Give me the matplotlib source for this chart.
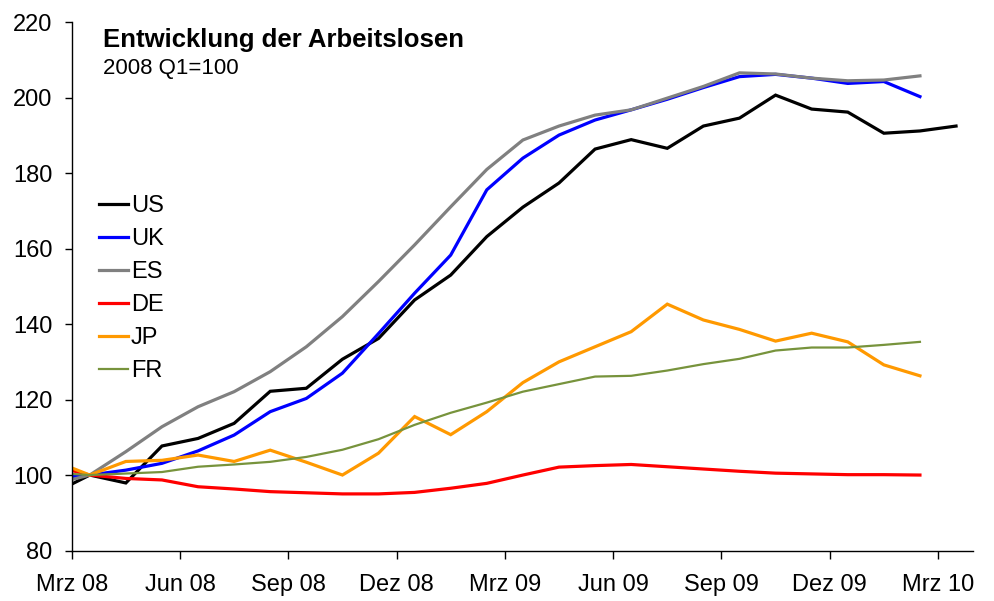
import numpy as np
import matplotlib
matplotlib.use("Agg")
import matplotlib.pyplot as plt

plt.rcParams['font.family'] = ['Liberation Sans', 'DejaVu Sans']

# Months since 1 Mar 2008; monthly observations plotted mid-month, first value = Feb 08
tick_labels = ["Mrz 08", "Jun 08", "Sep 08", "Dez 08", "Mrz 09",
               "Jun 09", "Sep 09", "Dez 09", "Mrz 10"]
tick_pos = [0, 3, 6, 9, 12, 15, 18, 21, 24]

us = [95.2, 100, 97.9, 107.7, 109.7, 113.7, 122.2, 123.0, 130.7, 136.2, 146.4, 153.0,
      163.2, 171.0, 177.4, 186.4, 188.9, 186.6, 192.5, 194.6, 200.7, 197.0, 196.2,
      190.6, 191.2, 192.5]
uk = [99.2, 100, 101.3, 103.1, 106.4, 110.6, 116.8, 120.3, 127.0, 137.5, 148.2, 158.3,
      175.6, 184.0, 190.1, 194.1, 196.8, 199.6, 202.7, 205.6, 206.2, 205.2, 203.8,
      204.3, 200.3]
es = [97.6, 100, 106.2, 112.8, 118.1, 122.1, 127.4, 134.0, 142.0, 151.3, 161.0, 171.1,
      181.0, 188.8, 192.5, 195.4, 196.8, 199.9, 203.0, 206.6, 206.3, 205.2, 204.5,
      204.7, 205.8]
de = [102.4, 100, 99.1, 98.7, 96.9, 96.3, 95.6, 95.3, 95.0, 95.0, 95.4, 96.5,
      97.8, 100.0, 102.1, 102.5, 102.8, 102.2, 101.6, 101.0, 100.5, 100.3, 100.1,
      100.1, 100.0]
jp = [103.8, 100, 103.6, 103.9, 105.3, 103.6, 106.6, 103.4, 100.0, 105.8, 115.5, 110.7,
      116.8, 124.5, 130.0, 134.0, 138.0, 145.3, 141.1, 138.6, 135.5, 137.6, 135.3,
      129.2, 126.3]
fr = [100.6, 100, 100.4, 100.8, 102.2, 102.8, 103.5, 104.8, 106.7, 109.5, 113.3, 116.5,
      119.2, 122.1, 124.1, 126.1, 126.3, 127.7, 129.4, 130.8, 133.0, 133.8, 133.8,
      134.5, 135.3]

series = [("US", us, "#000000", 2.3),
          ("UK", uk, "#0000FF", 2.3),
          ("ES", es, "#808080", 2.3),
          ("DE", de, "#FF0000", 2.3),
          ("JP", jp, "#FF9900", 2.3),
          ("FR", fr, "#77933C", 1.6)]

W, H = 995, 601
fig = plt.figure(figsize=(W / 100, H / 100), dpi=100)
ax = fig.add_axes([71.7 / W, (H - 550.5) / H, (973 - 71.7) / W, (550.5 - 22.3) / H])

for name, vals, col, lw in series:
    x = np.arange(len(vals)) - 0.5
    ax.plot(x, vals, color=col, lw=lw, label=name, solid_joinstyle='miter')

ax.set_xlim(0, 24.97)
ax.set_ylim(80, 220)
ax.set_yticks(np.arange(80, 221, 20))
ax.set_xticks(tick_pos)
ax.set_xticklabels(tick_labels)
for s in ["top", "right"]:
    ax.spines[s].set_visible(False)
for s in ["left", "bottom"]:
    ax.spines[s].set_linewidth(1.0)
    ax.spines[s].set_color("black")
ax.tick_params(axis='y', direction='out', length=5, width=1, labelsize=17, pad=9)
ax.tick_params(axis='x', direction='out', length=6, width=1, labelsize=17, pad=11)

fig.text(103 / W, 1 - 47 / H, "Entwicklung der Arbeitslosen", fontsize=18.5,
         fontweight='bold', va='baseline', ha='left')
fig.text(103 / W, 1 - 74 / H, "2008 Q1=100", fontsize=16, va='baseline', ha='left')

leg = ax.legend(loc='upper left', bbox_to_anchor=(99 / W, 1 - 195 / H),
                bbox_transform=fig.transFigure, frameon=False, fontsize=17,
                handlelength=1.23, handletextpad=0.13, labelspacing=0.47,
                borderpad=0, borderaxespad=0)

fig.savefig("out.png", dpi=100)
